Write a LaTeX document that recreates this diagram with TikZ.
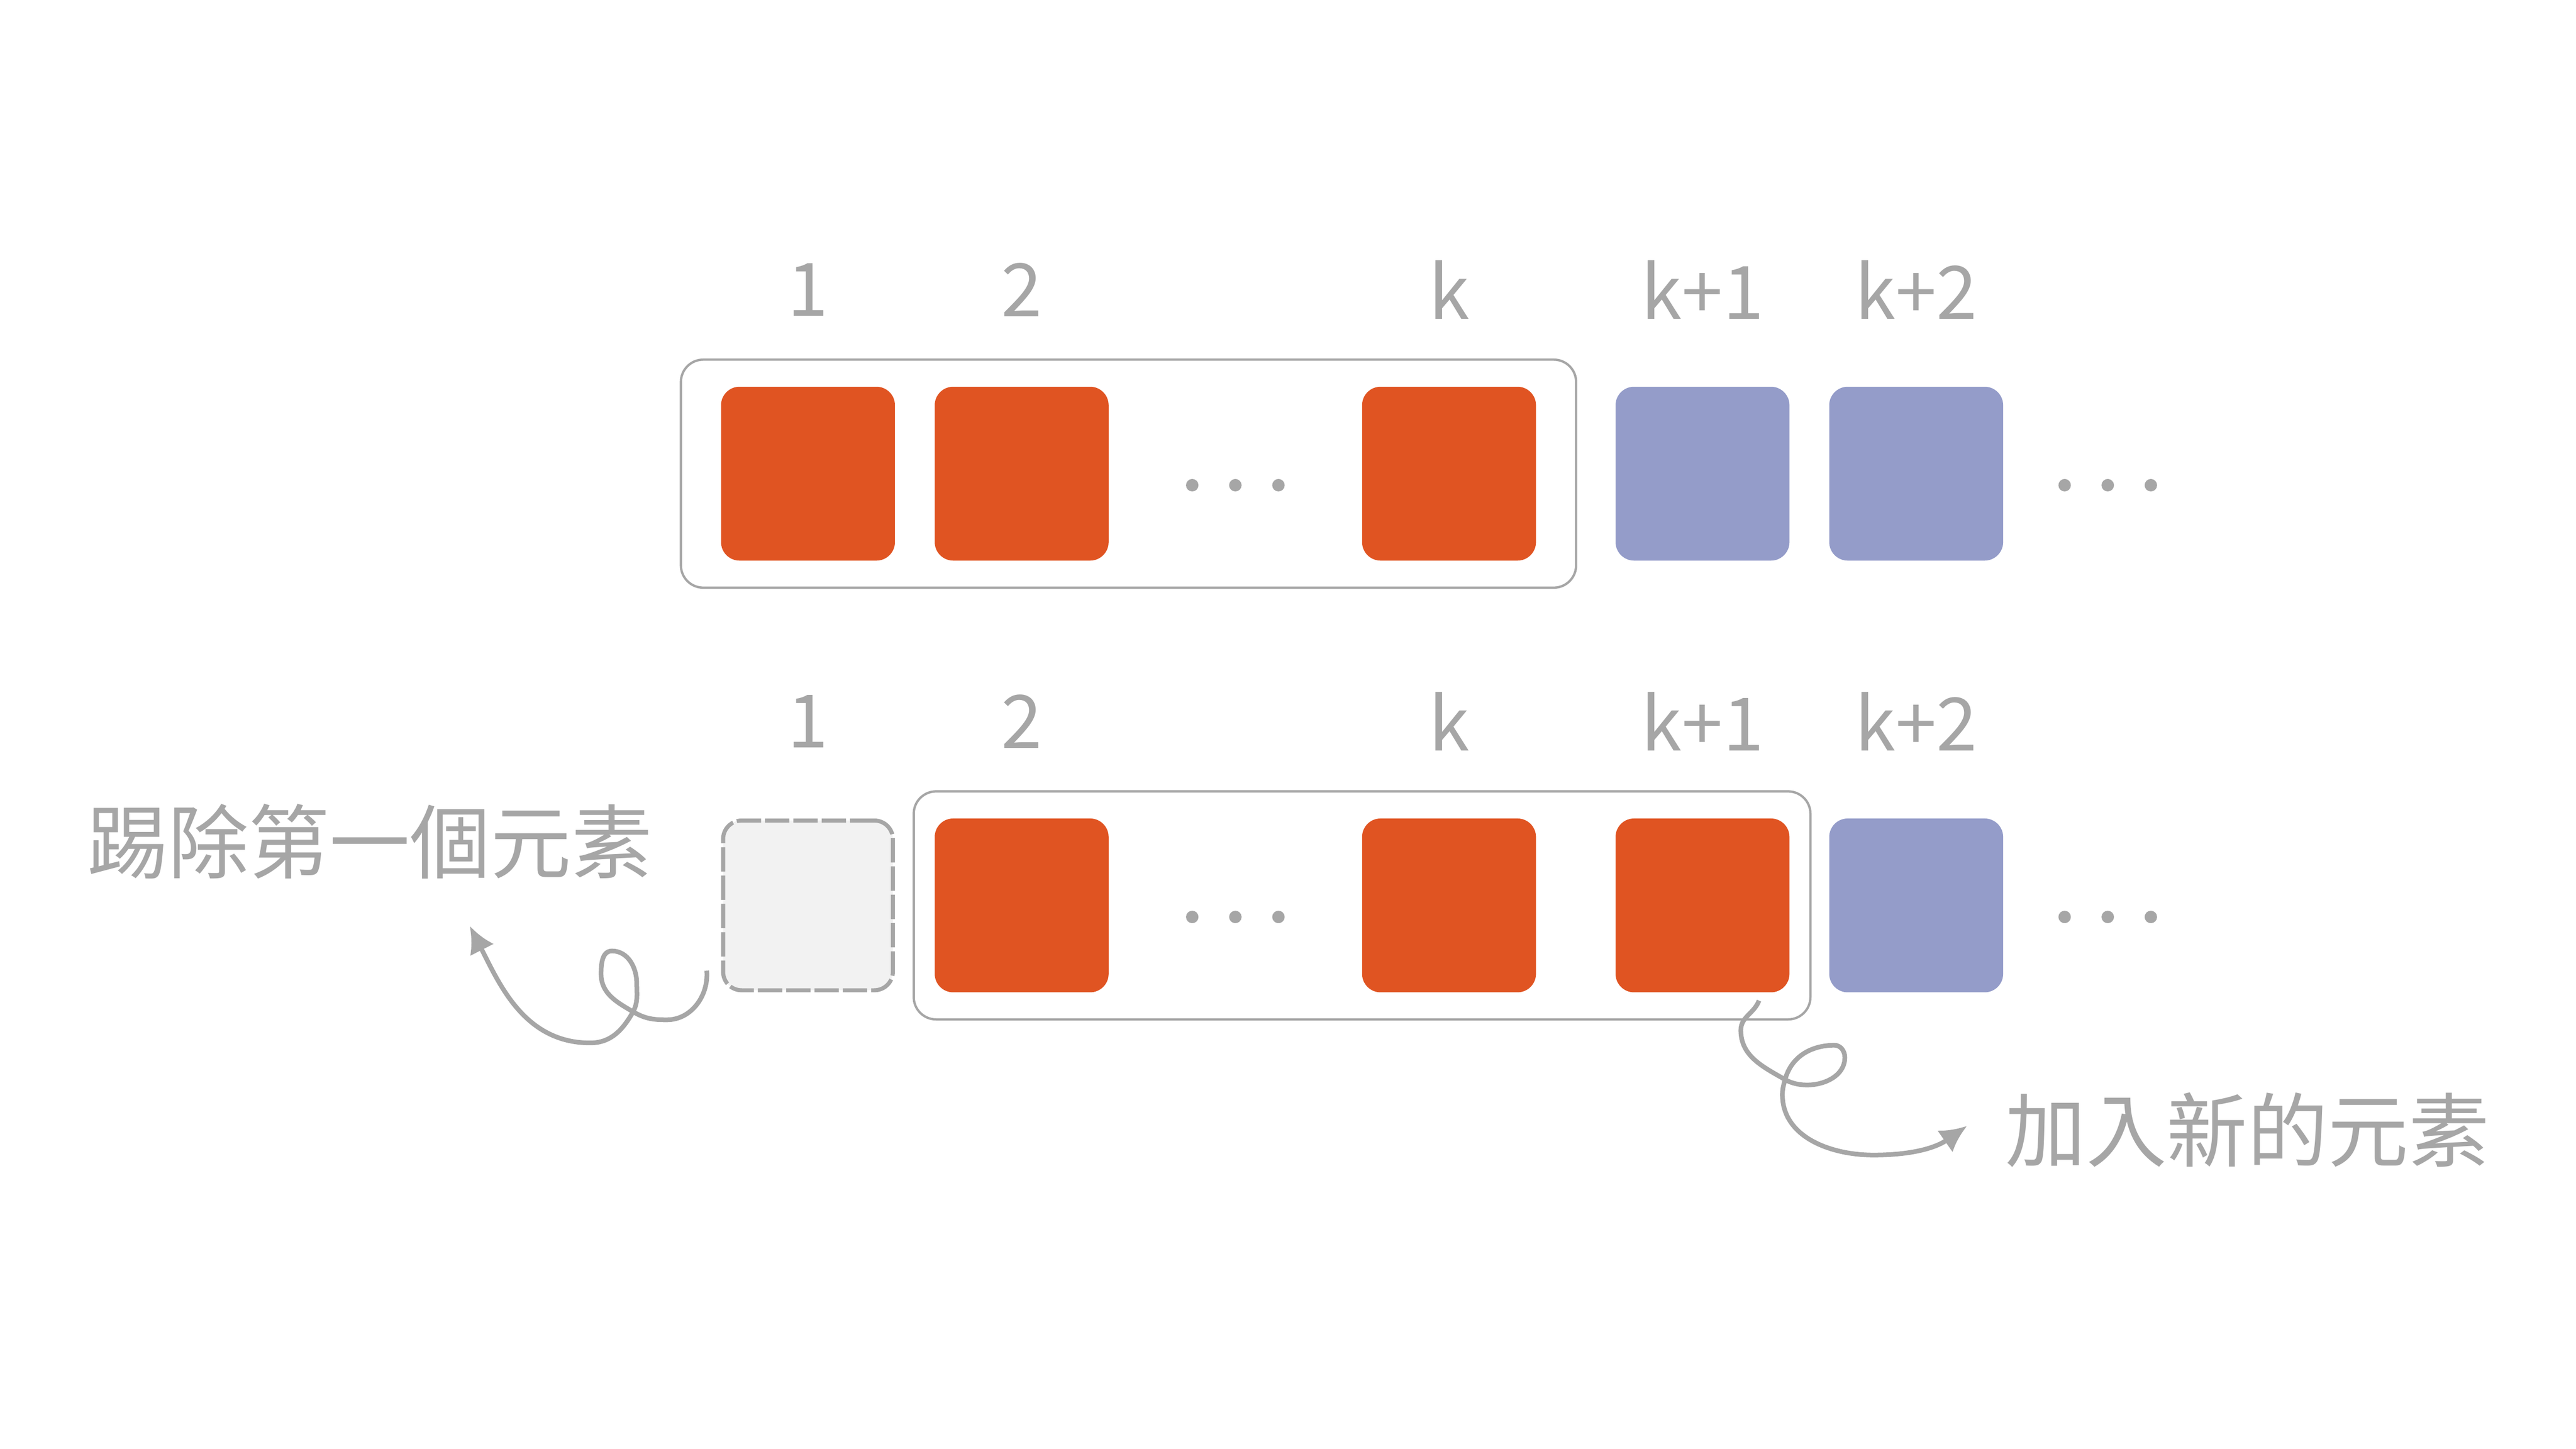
\documentclass[tikz,border=0pt]{standalone}
\usepackage{fontspec}
\setmainfont{Noto Sans CJK TC}
\usepackage{color}
\usepackage{xcolor}
\usepackage{tikz}
\usetikzlibrary{shapes, arrows, arrows.meta, calc, fit, positioning}
\definecolor{window}{HTML}{E05422}
\definecolor{waiting}{HTML}{949CC9}
\definecolor{ink}{HTML}{A6A6A6}
\definecolor{dropped}{HTML}{F2F2F2}
\tikzstyle{cell} = [rectangle, rounded corners=0.112cm, inner sep=0pt,
    minimum width=1.053cm, minimum height=1.053cm]
\tikzstyle{frame} = [rectangle, draw=ink, line width=0.4pt, rounded corners=0.135cm]
\tikzstyle{num} = [text=ink, font=\fontsize{12.7}{15}\selectfont]
\tikzstyle{note} = [text=ink, inner sep=0pt, font=\fontsize{13.9}{16}\selectfont]
\tikzstyle{line} = [draw=ink, line width=0.8pt, -{Latex[length=4.6pt, width=4.6pt]}]

\begin{document}
\begin{tikzpicture}[node distance = 1.294cm, auto]
    \useasboundingbox (0,0) rectangle (15.6,8.775);
    % Top row
    \node[cell, fill=window] (t1) at (4.893,5.906) {};
    \node[cell, fill=window, right of=t1] (t2) {};
    \node[right of=t2] (tdots) {};
    \node[cell, fill=window, right of=tdots] (tk) {};
    \node[cell, fill=waiting, right of=tk, node distance=1.535cm] (tk1) {};
    \node[cell, fill=waiting, right of=tk1] (tk2) {};
    \node[right of=tk2, node distance=1.16cm] (tmore) {};
    \node[frame, inner xsep=0.236cm, inner ysep=0.157cm, fit=(t1) (tk)] (twin) {};

    % Bottom row
    \node[cell, fill=dropped, draw=ink, line width=0.7pt, dash pattern=on 4.2pt off 0.68pt,
          minimum width=1.028cm, minimum height=1.028cm,
          below of=t1, node distance=2.615cm] (b1) {};
    \node[cell, fill=window, right of=b1] (b2) {};
    \node[right of=b2] (bdots) {};
    \node[cell, fill=window, right of=bdots] (bk) {};
    \node[cell, fill=window, right of=bk, node distance=1.535cm] (bk1) {};
    \node[cell, fill=waiting, right of=bk1] (bk2) {};
    \node[right of=bk2, node distance=1.16cm] (bmore) {};
    \node[frame, inner xsep=0.12cm, inner ysep=0.157cm, fit=(b2) (bk1)] (bwin) {};

    % Indices
    \foreach \cellname/\idx in {t1/1, t2/2, tk/k, tk1/k+1, tk2/k+2,
                                b1/1, b2/2, bk/k, bk1/k+1, bk2/k+2}
        \node[num, above of=\cellname, node distance=1.113cm] (n\cellname) {\idx};

    % Dots
    \foreach \row in {tdots, tmore, bdots, bmore}
        \foreach \d in {-1,0,1}
            \fill[ink] ($(\row)+(\d*0.261,-0.07)$) circle (0.0377);

    % Notes
    \node[note, left of=b1, node distance=2.654cm, yshift=0.387cm] (kick) {踢除第一個元素};
    \node[note, right of=bk1, node distance=3.3cm, yshift=-1.361cm] (add) {加入新的元素};
    \coordinate (kickfrom) at ($(b1.south west)+(-0.087,0.131)$);
    \coordinate (kickto) at ($(kick.center)+(0.606,-0.512)$);
    \coordinate (addfrom) at ($(bk1.south)+(0.342,-0.043)$);
    \coordinate (addto) at ($(add.west)+(-0.226,0.025)$);

    % Curls
    \path[line] (kickfrom) to[out=-85,in=0] (4.038,2.598) to[out=180,in=-30] (3.839,2.644)
        to[out=150,in=-90] (3.64,2.876) to[out=90,in=180] (3.706,3.015)
        to[out=0,in=90] (3.856,2.819) to[out=-90,in=60] (3.83,2.64)
        to[out=-120,in=0] (3.574,2.458) to[out=180,in=-63] (kickto);
    \path[line] (addfrom) to[out=-110,in=90] (10.542,2.535) to[out=-90,in=150] (10.81,2.236)
        to[out=-30,in=-90] (11.172,2.37) to[out=90,in=0] (11.109,2.444)
        to[out=180,in=75] (10.81,2.236) to[out=-105,in=90] (10.794,2.145)
        to[out=-90,in=180] (11.345,1.779) to[out=0,in=-145] (addto);
\end{tikzpicture}
\end{document}
